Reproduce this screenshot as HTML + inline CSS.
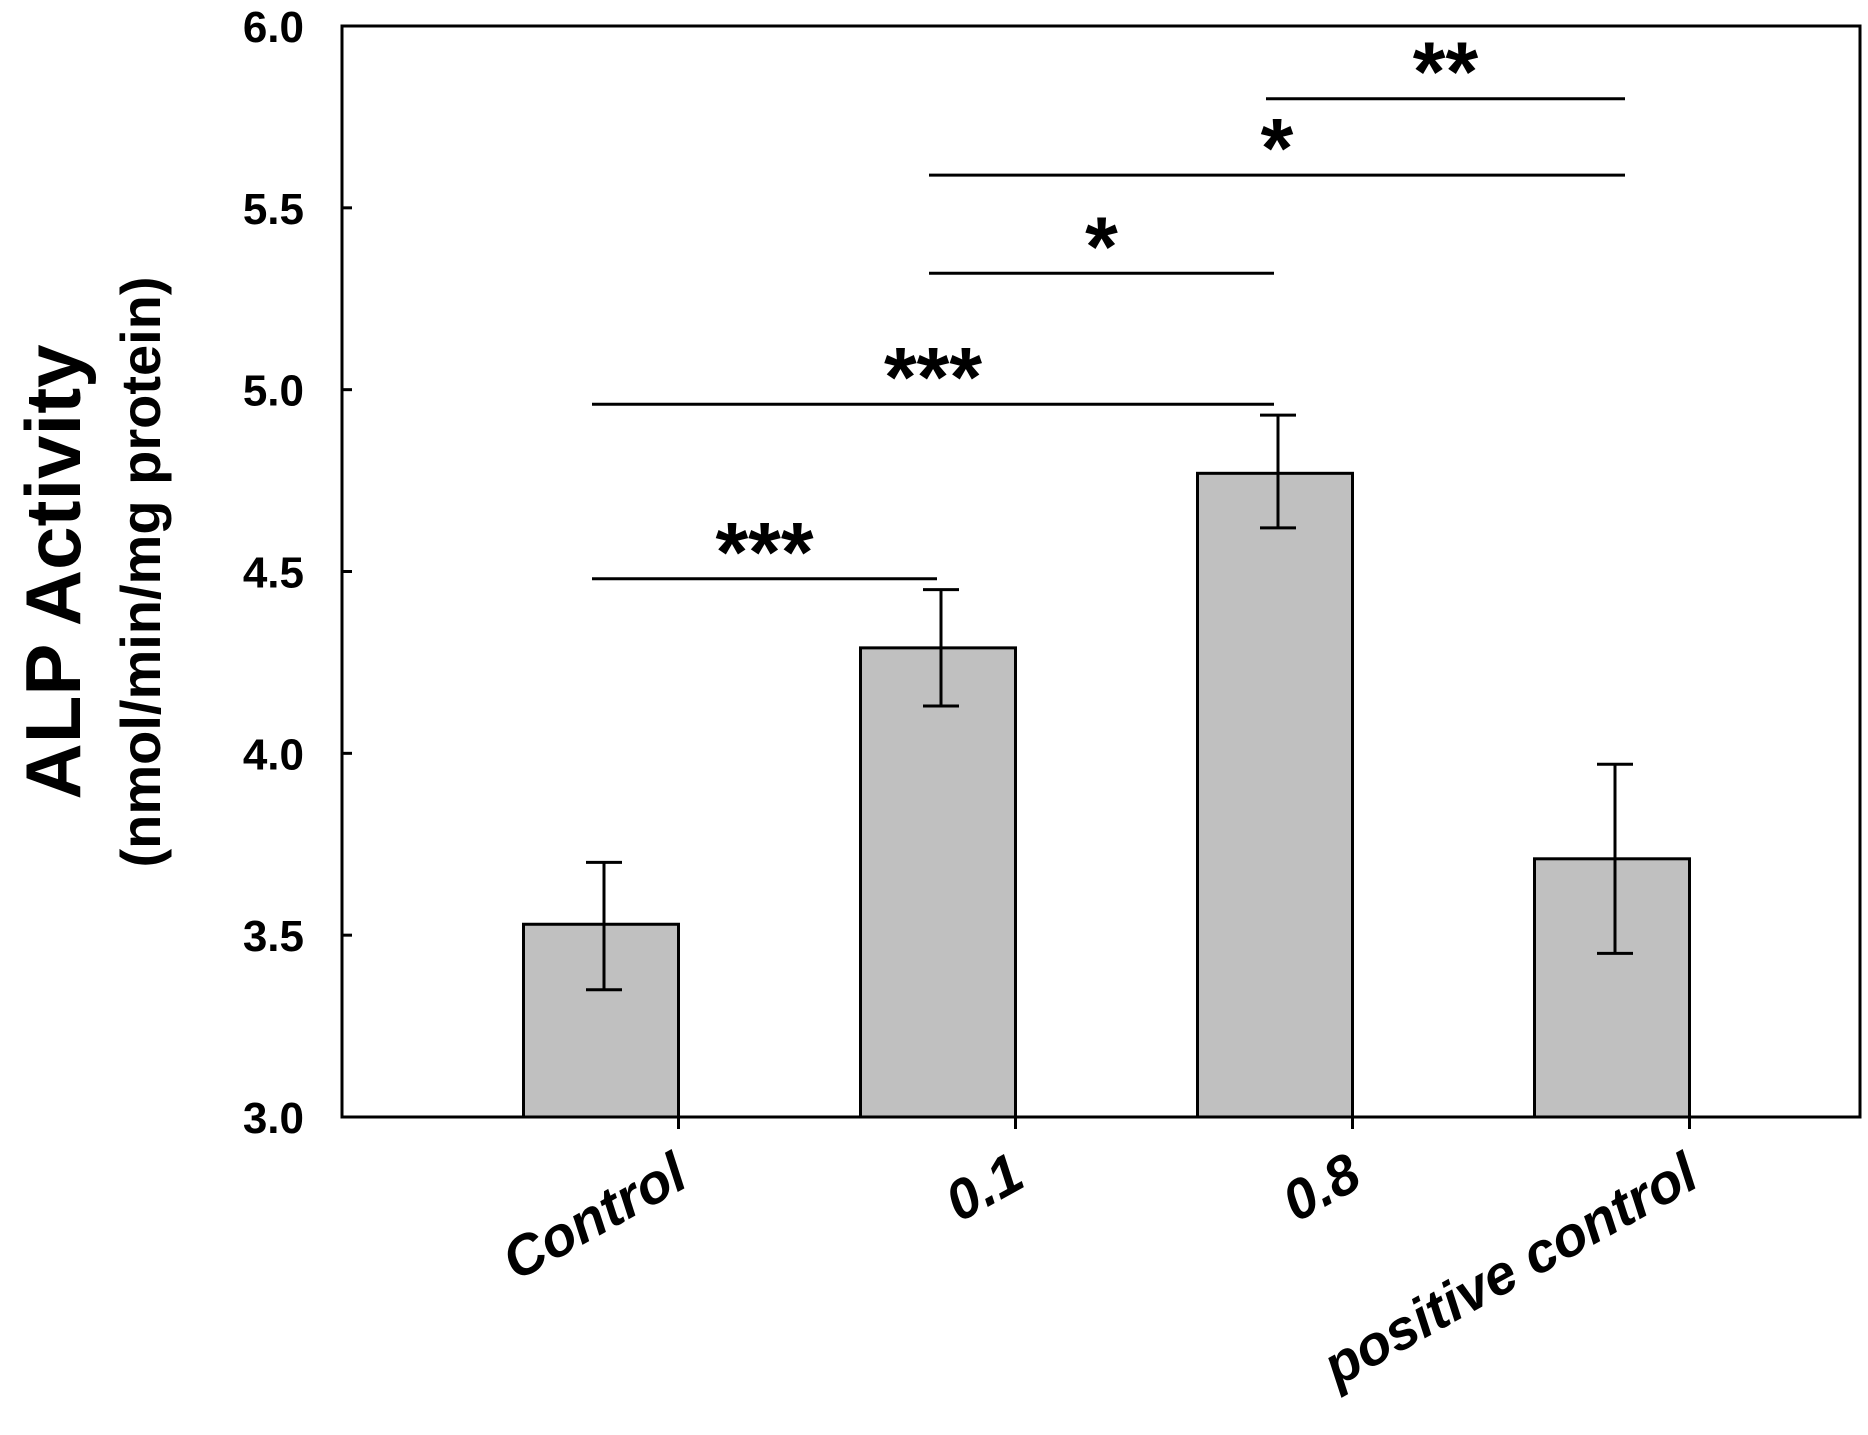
<!DOCTYPE html>
<html><head><meta charset="utf-8"><style>body{margin:0;background:#fff}svg{display:block}text{font-family:"Liberation Sans",Arial,sans-serif;font-weight:bold;fill:#000}</style></head>
<body>
<svg id="chart" width="1868" height="1435" viewBox="0 0 1868 1435"></svg>
<script>
const categories=["Control","0.1","0.8","positive control"];
const values=[3.53,4.29,4.77,3.71];
const errLow=[3.35,4.13,4.62,3.45];
const errHigh=[3.70,4.45,4.93,3.97];
const yTicks=[3.0,3.5,4.0,4.5,5.0,5.5,6.0];
const sigFrom=[0,0,1,1,2];
const sigTo=[1,2,2,3,3];
const sigLevel=[4.48,4.96,5.32,5.59,5.80];
const sigLabel=["***","***","*","*","**"];

const NS="http://www.w3.org/2000/svg",svg=document.getElementById('chart');
const L=342,R=1860,T=26,B=1117;
const y=v=>B-(v-3)/(6-3)*(B-T);
const xc=i=>601+i*337;
const bw=155;
function el(t,a,p){const e=document.createElementNS(NS,t);for(const k in a)e.setAttribute(k,a[k]);(p||svg).appendChild(e);return e;}
const frame=el('rect',{x:L,y:T,width:R-L,height:B-T,fill:'none',stroke:'#000','stroke-width':3});


yTicks.forEach(v=>{
  const t=el('text',{x:304,y:y(v)+16,'text-anchor':'end','font-size':44});t.textContent=v.toFixed(1);
  
  
  const tk=el('line',{x1:L,x2:L+10,y1:y(v),y2:y(v),stroke:'#000','stroke-width':3});
  
  
});
categories.forEach((c,i)=>{
  const b=el('rect',{x:xc(i)-bw/2,y:y(values[i]),width:bw,height:B-y(values[i]),fill:'#c0c0c0',stroke:'#000','stroke-width':3});
  
  
  const g=el('g',{stroke:'#000','stroke-width':3});
  
  
  const cx=xc(i)+3;
  el('line',{x1:cx,x2:cx,y1:y(errLow[i]),y2:y(errHigh[i])},g);
  el('line',{x1:cx-18,x2:cx+18,y1:y(errLow[i]),y2:y(errLow[i])},g);
  el('line',{x1:cx-18,x2:cx+18,y1:y(errHigh[i]),y2:y(errHigh[i])},g);
  const tx=xc(i)+bw/2;
  const tk=el('line',{x1:tx,x2:tx,y1:B,y2:B+12,stroke:'#000','stroke-width':3});
  
  
  const t=el('text',{x:0,y:0,'text-anchor':'end','font-size':56,'font-style':'italic',transform:`translate(${tx+12},${B+68}) rotate(-29)`});
  t.textContent=c;
  
  
});
sigLevel.forEach((v,k)=>{
  const a=xc(sigFrom[k])+3-12;
  const bx=xc(sigTo[k])+3+(sigTo[k]===3?10:-4);
  const l=el('line',{x1:a,x2:bx,y1:y(v),y2:y(v),stroke:'#000','stroke-width':3});
  
  
  const t=el('text',{x:(a+bx)/2,y:y(v)+2,'text-anchor':'middle','font-size':84});
  t.textContent=sigLabel[k];
  
  
});
const yl=el('text',{x:0,y:0,'text-anchor':'middle','font-size':78,transform:'translate(80,572) rotate(-90)'});
yl.textContent='ALP Activity';


const yl2=el('text',{x:0,y:0,'text-anchor':'middle','font-size':56,transform:'translate(160,572) rotate(-90)'});
yl2.textContent='(nmol/min/mg protein)';


</script>
</body></html>
